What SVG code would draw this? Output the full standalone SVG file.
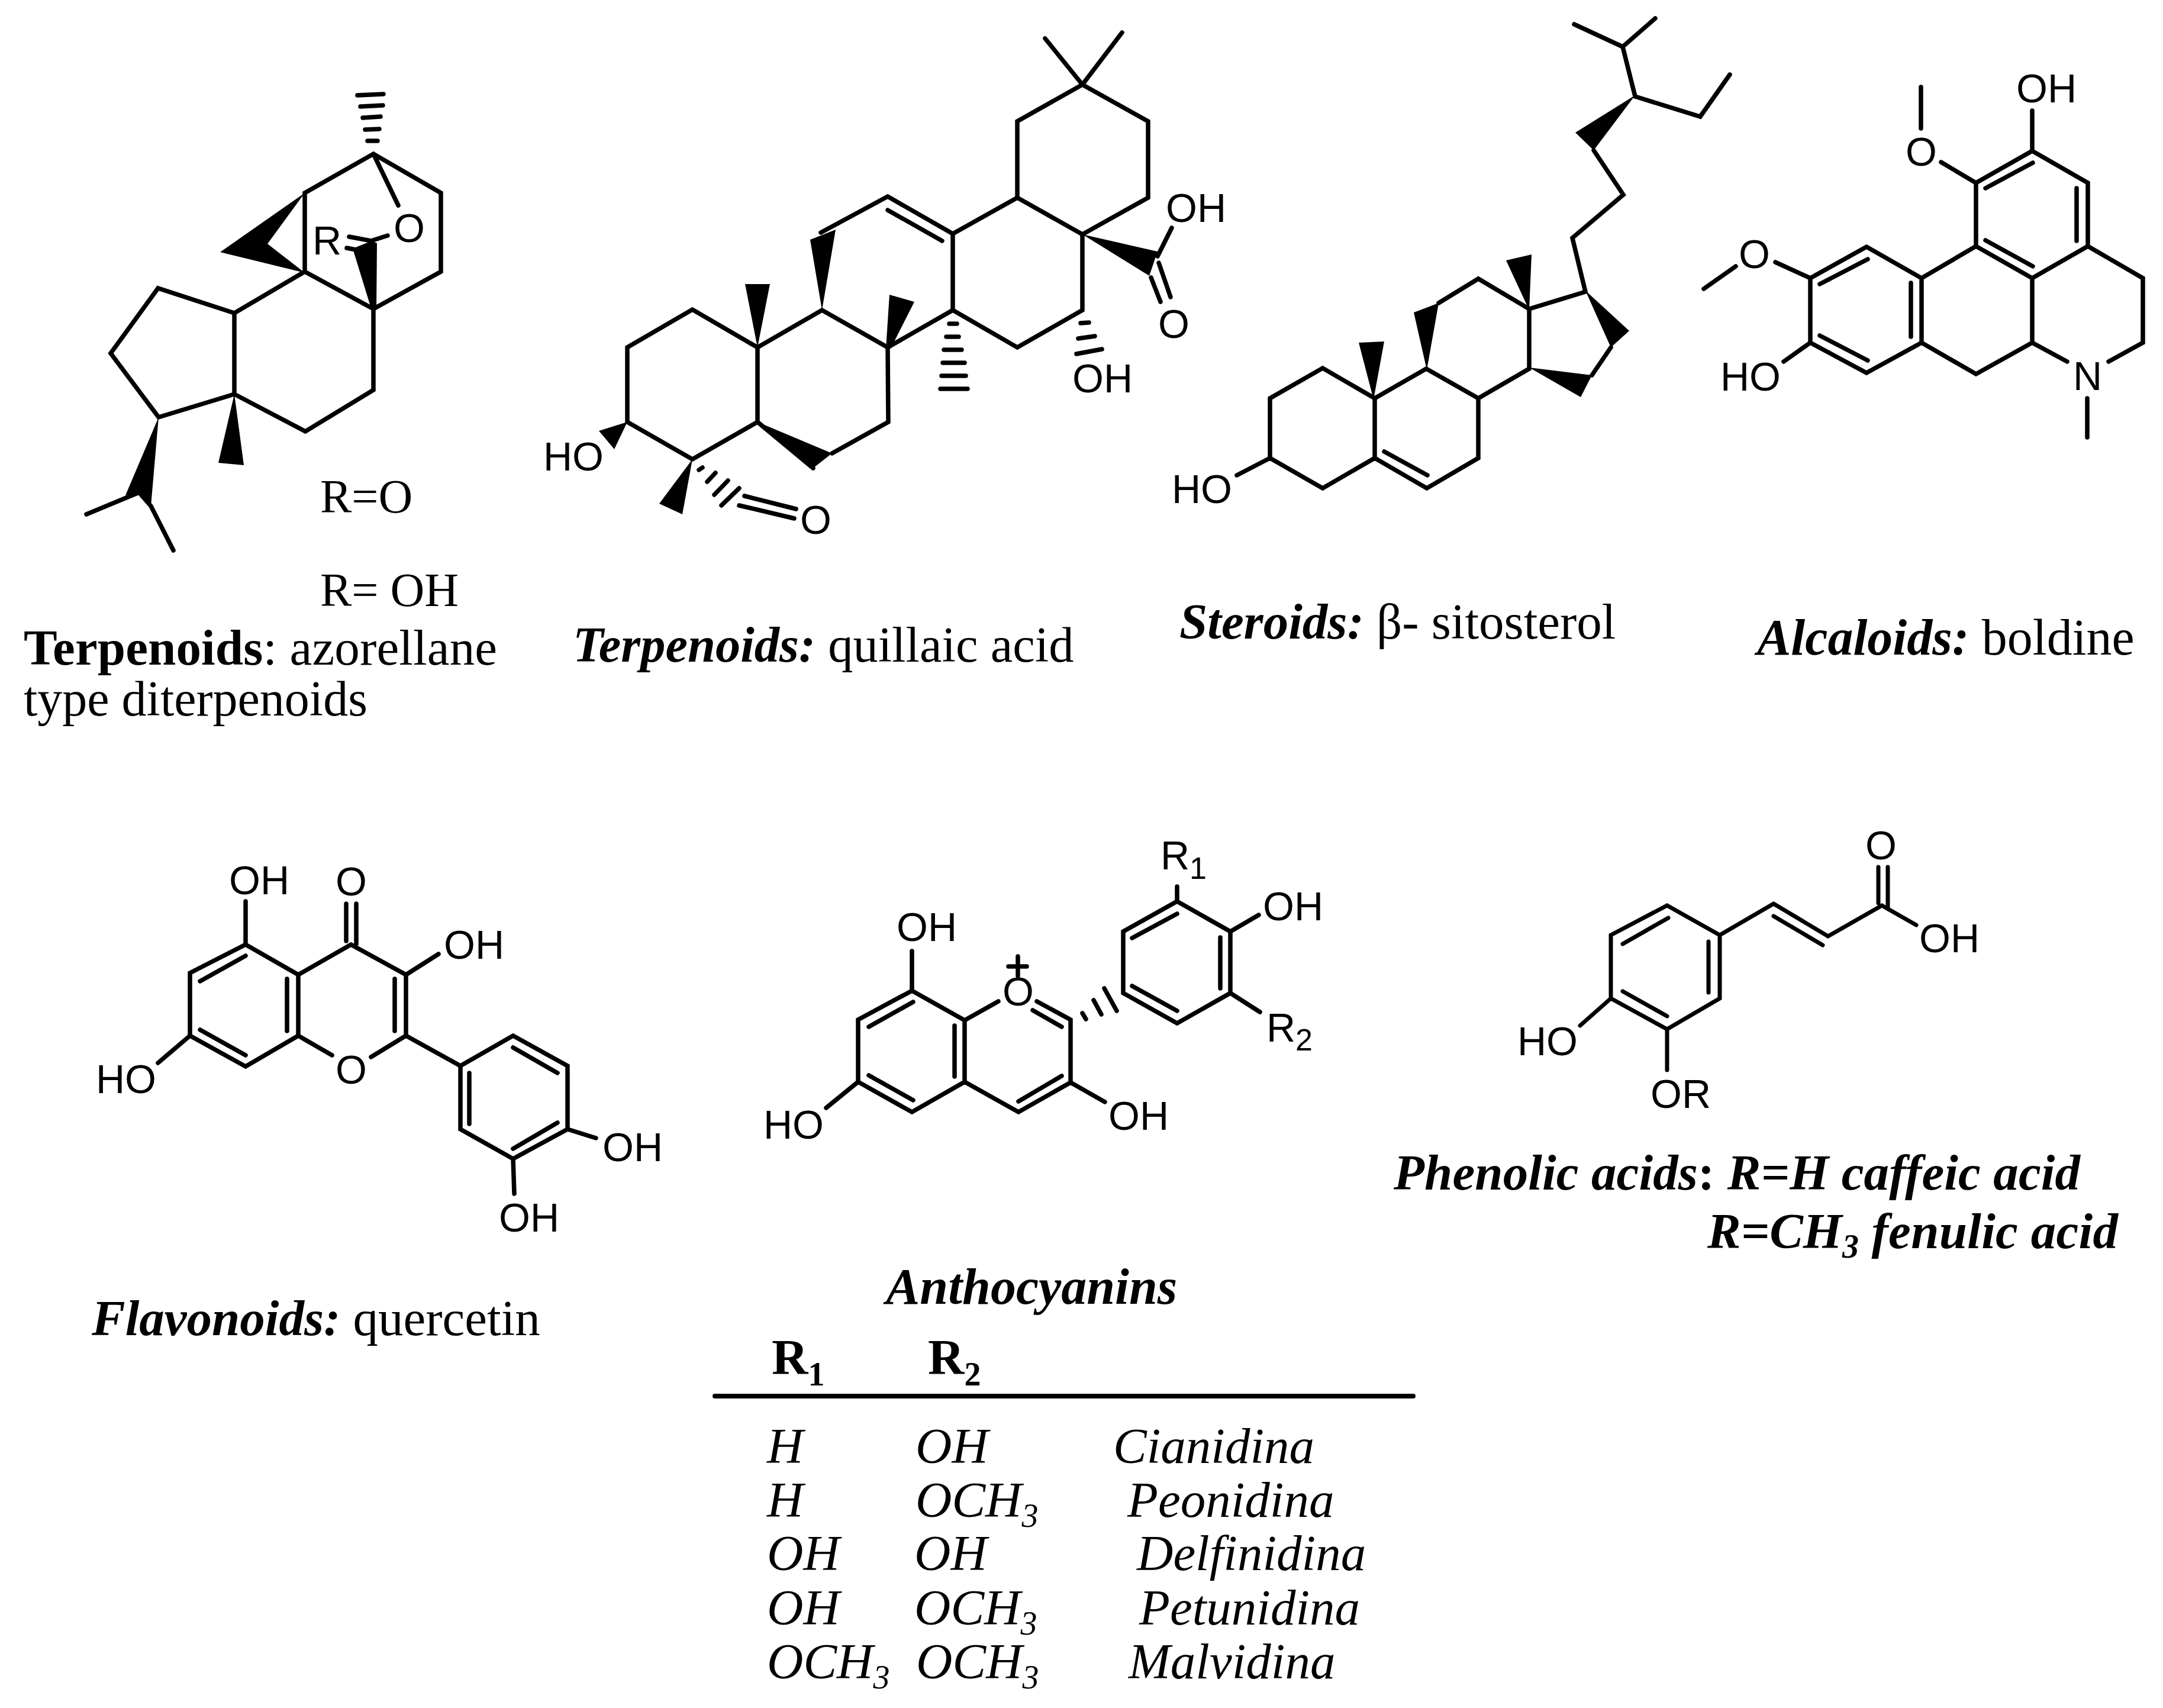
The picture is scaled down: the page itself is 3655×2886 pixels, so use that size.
<svg xmlns="http://www.w3.org/2000/svg" width="3655" height="2886" viewBox="0 0 3655 2886">
<style>
.b{fill:none;stroke:#000;stroke-width:7.5;stroke-linecap:round;stroke-linejoin:miter}
.h{fill:none;stroke:#000;stroke-width:7.5;stroke-linecap:round}
.w{fill:#000;stroke:none}
.a{font-family:"Liberation Sans",Arial,sans-serif;font-size:68px;fill:#000}
.c{font-family:"Liberation Serif","Times New Roman",serif;font-size:85px;fill:#000}
.bi{font-weight:bold;font-style:italic}
.bd{font-weight:bold}
.it{font-style:italic}
.s{font-size:56px}
.as{font-size:52px}
</style>
<rect width="3655" height="2886" fill="#fff"/>

<g id="azorellane">
<path class="b" d="M515 459L515 326L631 260L745 326L745 459L631 522L515 459L396 529L267 487L187 597L268 705L396 666L396 529M396 666L516 729L631 659L631 522M631 260L673 347M590 400L627 407L655 398M586 419L607 423M146 869L235 832L255 855L293 930"/>
<path class="w" d="M515 326L372 426L515 461L452 412Z"/>
<path class="w" d="M628 524L596 420L628 407L637 411L636 524Z"/>
<path class="w" d="M268 705L212 837L235 832L255 855Z"/>
<path class="w" d="M396 666L369 782L412 786Z"/>
<path class="h" d="M604 161L648 159M609 180L647 178M613 199L643 197M617 219L641 218M621 238L638 238"/>
<text class="a" x="528" y="430">R</text>
<text class="a" x="665" y="409">O</text>
<text class="c" style="font-size:80px" x="541" y="866">R=O</text>
<text class="c" style="font-size:80px" x="541" y="1024">R= OH</text>
<text class="c" style="font-size:85px" x="40" y="1123" textLength="800" lengthAdjust="spacing"><tspan class="bd">Terpenoids</tspan>: azorellane</text>
<text class="c" style="font-size:84px" x="40" y="1209">type diterpenoids</text>
</g>

<g id="quillaic-acid">
<path class="b" d="M1060 713L1060 587L1170 523L1280 587L1280 713L1170 776L1060 713M1280 587L1389 524L1500 587L1501 713L1406 766M1280 713L1374 791M1500 587L1610 524L1610 395L1500 332L1387 393M1610 395L1719 334L1719 205L1829 143L1940 205L1940 334L1829 396L1719 334M1829 143L1766 65M1829 143L1896 55M1829 396L1829 524L1719 587L1610 524M1500 355L1592 407M1258 838L1345 860M1249 854L1342 876M1956 433L1980 385M1958 444L1978 502M1945 469L1961 510"/>
<path class="w" d="M1389 524L1369 405L1412 388Z"/>
<path class="w" d="M1280 587L1259 480L1301 480Z"/>
<path class="w" d="M1497 589L1503 498L1545 510L1505 589Z"/>
<path class="w" d="M1280 713L1374 791L1406 766Z"/>
<path class="w" d="M1060 713L1012 728L1038 759Z"/>
<path class="w" d="M1170 776L1114 851L1153 869Z"/>
<path class="w" d="M1829 396L1956 425L1942 466Z"/>
<path class="h" d="M1181 794L1187 790M1195 814L1209 799M1207 836L1230 812M1219 854L1249 825M1604 547L1617 547M1599 569L1620 569M1595 591L1625 591M1593 613L1630 613M1591 635L1632 635M1589 657L1635 657M1826 546L1840 545M1822 572L1850 568M1819 598L1862 590"/>
<text class="a" x="918" y="795">HO</text>
<text class="a" x="1812" y="663">OH</text>
<text class="a" x="1970" y="375">OH</text>
<text class="a" x="1957" y="571">O</text>
<text class="a" x="1352" y="902">O</text>
<text class="c" style="font-size:84.5px" x="968" y="1118"><tspan class="bi">Terpenoids:</tspan> quillaic acid</text>
</g>

<g id="sitosterol">
<path class="b" d="M2146 774L2146 673L2235 622L2323 673L2323 774L2235 825L2146 774M2323 673L2410 623L2498 673L2498 774L2411 825L2323 774M2498 673L2584 623L2584 522L2498 471L2431 512M2584 522L2679 493L2657 402L2743 329L2693 254M2722 587L2690 634M2339 763L2412 803M2146 774L2090 803M2763 163L2742 79L2660 41M2742 79L2797 31M2763 163L2873 197L2923 126"/>
<path class="w" d="M2321 675L2296 579L2339 577Z"/>
<path class="w" d="M2411 625L2389 528L2431 512Z"/>
<path class="w" d="M2584 524L2545 440L2588 430Z"/>
<path class="w" d="M2679 491L2753 559L2722 587Z"/>
<path class="w" d="M2584 621L2690 634L2671 671Z"/>
<path class="w" d="M2763 161L2662 224L2693 254Z"/>
<text class="a" x="1980" y="850">HO</text>
<text class="c" x="1993" y="1079"><tspan class="bi">Steroids:</tspan> β- sitosterol</text>
</g>

<g id="boldine">
<path class="b" d="M3339 416L3339 309L3434 255L3528 309L3528 416L3434 470L3339 416L3247 470L3154 417L3059 470L3059 579L3154 630L3247 579L3247 470M3528 416L3621 470L3621 579L3563 611M3434 470L3434 579L3493 611M3247 579L3339 632L3434 579M3527 673L3527 739M3355 318L3435 275M3509 318L3509 407M3355 406L3435 450M3229 478L3229 569M3075 480L3156 438M3075 567L3156 609M3434 255L3434 187M3339 309L3280 274M3246 147L3246 217M3059 470L3000 443M2879 488L2933 450M3059 579L3014 611"/>
<text class="a" x="3503" y="659">N</text>
<text class="a" x="3407" y="173">OH</text>
<text class="a" x="3220" y="280">O</text>
<text class="a" x="2938" y="453">O</text>
<text class="a" x="2907" y="660">HO</text>
<text class="c" style="font-size:86px" x="2969" y="1106"><tspan class="bi">Alcaloids:</tspan> boldine</text>
</g>

<g id="quercetin">
<path class="b" d="M321 1750L321 1644L415 1596L504 1647L504 1750L415 1802L321 1750M504 1647L593 1596L686 1647L686 1750L778 1801L867 1750L959 1801L959 1908L867 1958L778 1908L778 1801M504 1750L561 1783M686 1750L627 1786M338 1658L415 1615M485 1654L485 1742M338 1740L415 1783M667 1654L667 1742M793 1813L793 1899M867 1770L942 1813M942 1897L867 1941M415 1596L415 1523M585 1527L585 1590M602 1527L602 1595M686 1647L741 1612M321 1750L267 1796M959 1908L1007 1923M867 1958L869 2017"/>
<text class="a" x="567" y="1831">O</text>
<text class="a" x="387" y="1511">OH</text>
<text class="a" x="567" y="1513">O</text>
<text class="a" x="750" y="1620">OH</text>
<text class="a" x="162" y="1847">HO</text>
<text class="a" x="1018" y="1962">OH</text>
<text class="a" x="843" y="2081">OH</text>
<text class="c" x="155" y="2256"><tspan class="bi">Flavonoids:</tspan> quercetin</text>
</g>

<g id="anthocyanin">
<path class="b" d="M1450 1828L1450 1723L1541 1674L1630 1724L1630 1828L1541 1879L1450 1828M1630 1828L1721 1879L1809 1829L1809 1723L1752 1692M1630 1724L1687 1692M1745 1707L1794 1735M1468 1735L1543 1693M1613 1733L1613 1819M1468 1817L1543 1859M1721 1861L1794 1818M1541 1674L1541 1607M1450 1828L1396 1872M1809 1829L1867 1862M1898 1678L1898 1574L1989 1523L2079 1574L2079 1678L1989 1729L1898 1678M1913 1585L1989 1544M2062 1584L2062 1670M1989 1708L1913 1666M1704 1633L1735 1633M1720 1616L1720 1649M1989 1523L1989 1498M2079 1574L2127 1546M2079 1678L2129 1710"/>
<path class="h" d="M1829 1712L1835 1722M1848 1690L1861 1714M1866 1670L1887 1708"/>
<text class="a" x="1694" y="1699">O</text>
<text class="a" x="1515" y="1590">OH</text>
<text class="a" x="1290" y="1924">HO</text>
<text class="a" x="1873" y="1909">OH</text>
<text class="a" x="1961" y="1469">R<tspan class="as" dy="16">1</tspan></text>
<text class="a" x="2134" y="1555">OH</text>
<text class="a" x="2140" y="1760">R<tspan class="as" dy="15">2</tspan></text>
<text class="c bi" style="font-size:86px" x="1497" y="2203">Anthocyanins</text>
</g>

<g id="caffeic-acid">
<path class="b" style="stroke-width:7" d="M2722 1687L2722 1580L2817 1530L2906 1580L2906 1687L2817 1739L2722 1687M2906 1580L2997 1527L3089 1582L3180 1530L3238 1563M2742 1595L2819 1551M2887 1591L2887 1677M2817 1717L2742 1675M2997 1548L3080 1597M3174 1465L3174 1526M3190 1465L3190 1533M2722 1687L2670 1733M2817 1739L2817 1808"/>
<text class="a" x="3152" y="1452">O</text>
<text class="a" x="3243" y="1609">OH</text>
<text class="a" x="2564" y="1783">HO</text>
<text class="a" x="2789" y="1872">OR</text>
<text class="c bi" x="2355" y="2010" textLength="1160" lengthAdjust="spacing">Phenolic acids<tspan style="font-style:normal">:</tspan> R=H caffeic acid</text>
<text class="c bi" x="2885" y="2109">R=CH<tspan class="s" dy="16">3</tspan><tspan dy="-16" style="letter-spacing:0.3px"> fenulic acid</tspan></text>
</g>

<g id="anthocyanin-table">
<line x1="1208" y1="2359" x2="2388" y2="2359" stroke="#000" stroke-width="8" stroke-linecap="round"/>
<text class="c bd" x="1304" y="2322">R<tspan class="s" dy="19">1</tspan></text>
<text class="c bd" x="1568" y="2322">R<tspan class="s" dy="19">2</tspan></text>
<g class="it">
<text class="c" x="1296" y="2472">H</text><text class="c" x="1547" y="2472">OH</text><text class="c" x="1881" y="2472">Cianidina</text>
<text class="c" x="1296" y="2563">H</text><text class="c" x="1547" y="2563">OCH<tspan class="s" dy="17">3</tspan></text><text class="c" x="1905" y="2563">Peonidina</text>
<text class="c" x="1296" y="2653">OH</text><text class="c" x="1545" y="2653">OH</text><text class="c" x="1921" y="2653">Delfinidina</text>
<text class="c" x="1296" y="2745">OH</text><text class="c" x="1545" y="2745">OCH<tspan class="s" dy="17">3</tspan></text><text class="c" x="1925" y="2745">Petunidina</text>
<text class="c" x="1296" y="2836">OCH<tspan class="s" dy="17">3</tspan></text><text class="c" x="1548" y="2836">OCH<tspan class="s" dy="17">3</tspan></text><text class="c" x="1907" y="2836">Malvidina</text>
</g>
</g>
</svg>
